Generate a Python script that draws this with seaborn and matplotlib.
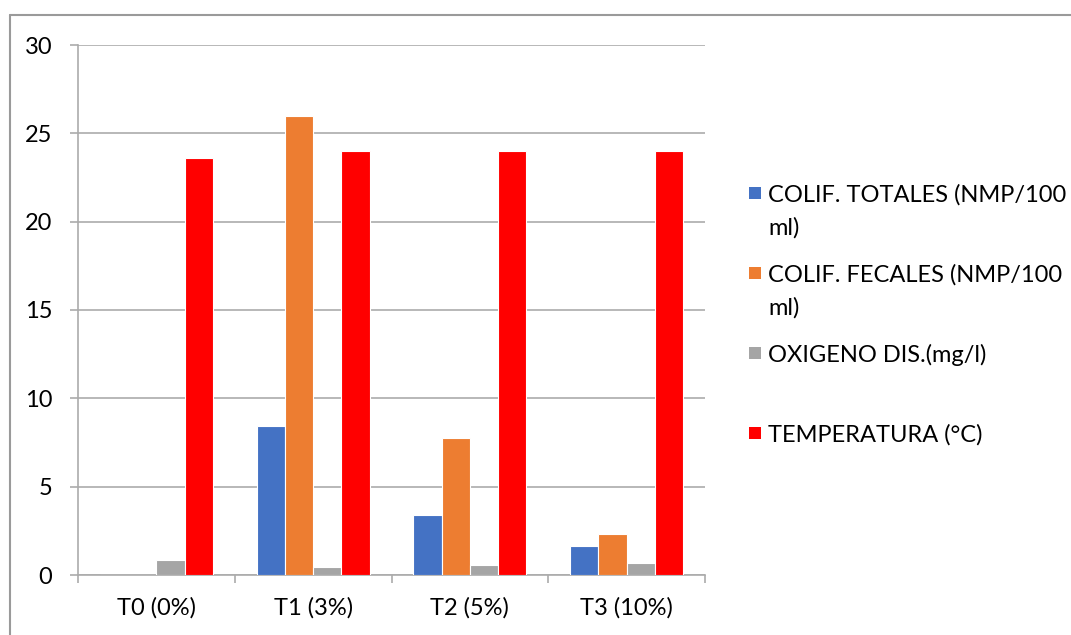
import numpy as np
import pandas as pd
import matplotlib
matplotlib.use("Agg")
import matplotlib.pyplot as plt
from matplotlib.patches import Rectangle
from matplotlib.lines import Line2D
import seaborn as sns

# Treatments and measured parameters
categories = ["T0 (0%)", "T1 (3%)", "T2 (5%)", "T3 (10%)"]
series_labels = [
    "COLIF. TOTALES (NMP/100\nml)",
    "COLIF. FECALES (NMP/100\nml)",
    "OXIGENO DIS.(mg/l)",
    "TEMPERATURA (°C)",
]
coli_totales = [0.0, 8.45, 3.4, 1.65]
coli_fecales = [0.0, 26.0, 7.75, 2.33]
oxigeno = [0.85, 0.47, 0.58, 0.68]
temperatura = [23.6, 24.0, 24.0, 24.0]
y_ticks = [0, 5, 10, 15, 20, 25, 30]

colors = ["#4472C4", "#ED7D31", "#A5A5A5", "#FF0000"]

sns.set_theme(style="white")
plt.rcParams["font.family"] = ["Lato", "DejaVu Sans"]

df = pd.DataFrame({
    "trat": np.repeat(categories, 4),
    "serie": series_labels * len(categories),
    "valor": np.ravel(np.column_stack([coli_totales, coli_fecales, oxigeno, temperatura])),
})

W, H = 1071, 635
fig = plt.figure(figsize=(W / 100, H / 100), dpi=100)
ax = fig.add_axes([78 / W, 1 - 575 / H, (705 - 78) / W, (575 - 45) / H])

sns.barplot(data=df, x="trat", y="valor", hue="serie", order=categories,
            hue_order=series_labels, palette=colors, width=0.72,
            edgecolor="white", linewidth=0.8, saturation=1, legend=False,
            errorbar=None, ax=ax, zorder=3)

grid_c = "#ABABAB"
ax.set_ylim(0, 30)
ax.set_xlim(-0.5, len(categories) - 0.5)
ax.set_yticks(y_ticks)
ax.set_yticklabels([str(t) for t in y_ticks])
ax.yaxis.grid(True, color=grid_c, linewidth=1.2, zorder=0)
ax.xaxis.grid(False)
ax.set_axisbelow(True)
ax.set_xlabel("")
ax.set_ylabel("")

for side in ["top", "right"]:
    ax.spines[side].set_visible(False)
for side in ["left", "bottom"]:
    ax.spines[side].set_visible(True)
    ax.spines[side].set_color(grid_c)
    ax.spines[side].set_linewidth(1.2)

ax.tick_params(axis="y", which="major", left=True, length=5.5, width=1.2,
               color=grid_c, pad=13, labelsize=17, labelcolor="black")
ax.tick_params(axis="x", which="major", bottom=False, length=0, pad=16,
               labelsize=17, labelcolor="black")
ax.set_xticks(np.arange(-0.5, len(categories), 1.0), minor=True)
ax.tick_params(axis="x", which="minor", bottom=True, length=6, width=1.2,
               color=grid_c)

# Legend at the right of the plot area
legend_y = [193, 273, 353, 433]
for lab, col, yc in zip(series_labels, colors, legend_y):
    fig.patches.append(Rectangle((749 / W, 1 - (yc + 6) / H), 12 / W, 12 / H,
                                 transform=fig.transFigure, facecolor=col,
                                 edgecolor="none"))
    for i, line in enumerate(lab.split("\n")):
        fig.text(768 / W, 1 - (yc + 8.5 + 33 * i) / H, line, fontsize=17,
                 color="black", va="baseline", ha="left")

# Chart frame
frame_c = "#9A9A9A"
fig.add_artist(Line2D([10 / W, 1.0], [1 - 15 / H, 1 - 15 / H],
                      transform=fig.transFigure, color=frame_c, linewidth=1.5))
fig.add_artist(Line2D([10 / W, 10 / W], [1 - 15 / H, 0.0],
                      transform=fig.transFigure, color=frame_c, linewidth=1.5))

fig.savefig("out.png", dpi=100, facecolor="white")
